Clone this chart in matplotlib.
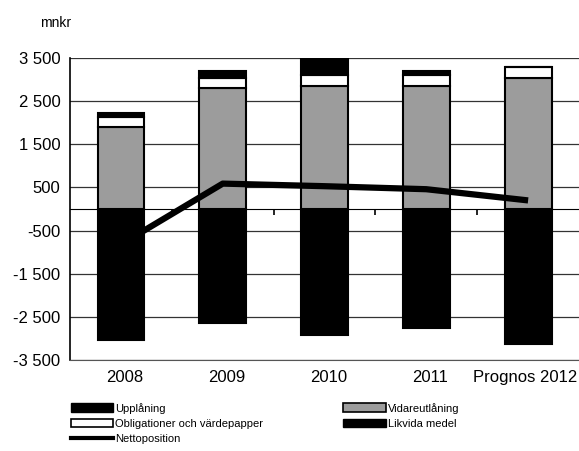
import numpy as np
import matplotlib.pyplot as plt
from matplotlib.patches import Patch
from matplotlib.lines import Line2D

plt.rcParams['font.family'] = ['Liberation Sans', 'DejaVu Sans']

# Data (mnkr)
years = ['2008', '2009', '2010', '2011', 'Prognos 2012']
upplaning = [-3030, -2640, -2920, -2760, -3130]
vidareutlaning = [1900, 2800, 2850, 2850, 3040]
obligationer = [230, 250, 250, 270, 250]
likvida = [90, 160, 370, 90, 0]
netto = [-820, 590, 530, 460, 200]
yticks = [3500, 2500, 1500, 500, -500, -1500, -2500, -3500]
ylabels = ['3 500', '2 500', '1 500', '500', '-500', '-1 500', '-2 500', '-3 500']

fig = plt.figure(figsize=(5.79, 4.51), dpi=100)
ax = fig.add_axes([0.121, 0.202, 0.879, 0.669])

x = np.arange(len(years))
w = 0.46
gray = '#9c9c9c'
ec = dict(edgecolor='black', linewidth=1.5, zorder=3)

ax.bar(x, upplaning, w, color='black', **ec)
ax.bar(x, vidareutlaning, w, color=gray, **ec)
b1 = np.array(vidareutlaning)
ax.bar(x, obligationer, w, bottom=b1, color='white', **ec)
b2 = b1 + np.array(obligationer)
ax.bar(x, likvida, w, bottom=b2, color='black', **ec)
ax.plot(x, netto, color='black', lw=4.5, zorder=4, solid_capstyle='butt')

ax.set_xlim(-0.5, len(years) - 0.5)
ax.set_ylim(-3500, 3500)
ax.set_yticks(yticks)
ax.set_yticklabels(ylabels, fontsize=12)
# label positions: last one is right-aligned at the end of the axis
xpos = list(x[:-1] + 0.04) + [len(years) - 0.52]
ax.set_xticks(xpos)
ax.set_xticklabels(years, fontsize=12)
ax.get_xticklabels()[-1].set_horizontalalignment('right')
ax.tick_params(axis='both', length=0, pad=7)
ax.grid(axis='y', color='#333333', lw=0.9, zorder=0)
ax.set_axisbelow(True)
for s in ['top', 'right']:
    ax.spines[s].set_visible(False)
ax.spines['left'].set_linewidth(1.2)
ax.spines['bottom'].set_color('#555555')

# zero axis with category tick marks
sec = ax.secondary_xaxis(0.5)
sec.set_xticks(x[:-1] + 0.5)
sec.set_xticklabels([])
sec.tick_params(direction='in', length=4, width=1.2)
sec.spines['bottom'].set_linewidth(1.2)

fig.text(0.07, 0.94, 'mnkr', fontsize=10)

handles = [
    Patch(facecolor='black', edgecolor='black'),
    Patch(facecolor='white', edgecolor='black', linewidth=1.2),
    Line2D([], [], color='black', lw=3),
    Patch(facecolor=gray, edgecolor='black', linewidth=1.2),
    Patch(facecolor='black', edgecolor='black'),
]
labels = ['Upplåning', 'Obligationer och värdepapper', 'Nettoposition',
          'Vidareutlåning', 'Likvida medel']
fig.legend(handles, labels, ncol=2, loc='upper left',
           bbox_to_anchor=(0.115, 0.117), frameon=False, fontsize=8,
           handlelength=3.8, handleheight=0.8, handletextpad=0.2,
           labelspacing=0.45, columnspacing=7.2, borderaxespad=0)

fig.savefig('out.png', dpi=100)
